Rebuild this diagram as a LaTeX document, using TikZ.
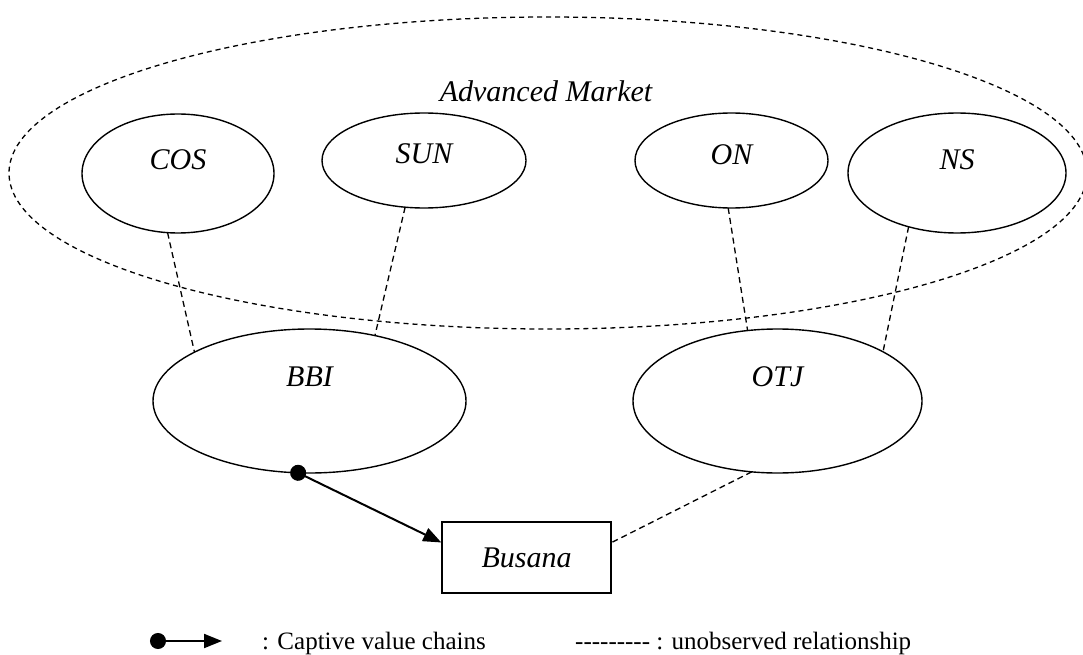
\documentclass[tikz,border=0pt]{standalone}
\usepackage{fontspec}
\setmainfont{Liberation Serif}
\usetikzlibrary{arrows.meta,shapes.geometric}

\begin{document}
\begin{tikzpicture}[
      x=1pt,y=-1pt,
      firm/.style={draw=black,ellipse,line width=1.4pt,inner sep=0pt,outer sep=0pt},
      market/.style={draw=black,ellipse,line width=1.3pt,dash pattern=on 5pt off 4pt,inner sep=0pt},
      lbl/.style={font=\fontsize{30}{36}\selectfont\itshape,inner sep=0pt},
      leg/.style={font=\fontsize{25}{30}\selectfont,inner sep=0pt,anchor=base west},
      unobs/.style={draw=black,line width=1.3pt,dash pattern=on 6pt off 4pt},
      chain/.style={draw=black,line width=2pt,{Circle[length=16pt]}-{Triangle[length=18pt,width=14pt]},shorten <=-8pt}
    ]
    \useasboundingbox (0,0) rectangle (1083,655);
    \node[market,minimum width=1078pt,minimum height=312pt] (mkt) at (548,173) {};
    \node[lbl] (mkt-t) at (546,91) {Advanced Market};
    \node[firm,minimum width=192pt,minimum height=119pt] (cos) at (178,173.5) {};
    \node[lbl] (cos-t) at ([yshift=14pt]cos.center) {COS};
    \node[firm,minimum width=204pt,minimum height=95pt] (sun) at (424,160.5) {};
    \node[lbl] (sun-t) at ([yshift=7pt]sun.center) {SUN};
    \node[firm,minimum width=193pt,minimum height=95pt] (on) at (731.5,160.5) {};
    \node[lbl] (on-t) at ([yshift=6pt]on.center) {ON};
    \node[firm,minimum width=218pt,minimum height=120pt] (ns) at (957,173) {};
    \node[lbl] (ns-t) at ([yshift=13pt]ns.center) {NS};
    \node[firm,minimum width=313pt,minimum height=144pt] (bbi) at (309.5,401) {};
    \node[lbl] (bbi-t) at ([yshift=24pt]bbi.center) {BBI};
    \node[firm,minimum width=289pt,minimum height=144pt] (otj) at (777.5,401) {};
    \node[lbl] (otj-t) at ([yshift=24pt]otj.center) {OTJ};
    \node[draw=black,line width=1.4pt,minimum width=169pt,minimum height=71pt,inner sep=0pt,
      font=\fontsize{30}{36}\selectfont\itshape] (busana) at (526.5,557.5) {Busana};

    \draw[unobs] (cos.-100) -- (bbi.157);
    \draw[unobs] (sun.-112) -- (bbi.45);
    \draw[unobs] (on.-94) -- (otj.113);
    \draw[unobs] (ns.-132) -- (otj.25);
    \draw[unobs] (otj.-110) -- (busana.10);
    \draw[chain] (bbi.-99) -- (busana.170);

    \coordinate (lg-s) at (158,641);
    \coordinate (lg-e) at (222,641);
    \draw[chain] (lg-s) -- (lg-e);
    \node[leg] (lg-1) at (262,649) {: Captive value chains};
    \node[leg] (lg-2) at (575,649) {-{}-{}-{}-{}-{}-{}-{}-{}- : unobserved relationship};
\end{tikzpicture}
\end{document}
